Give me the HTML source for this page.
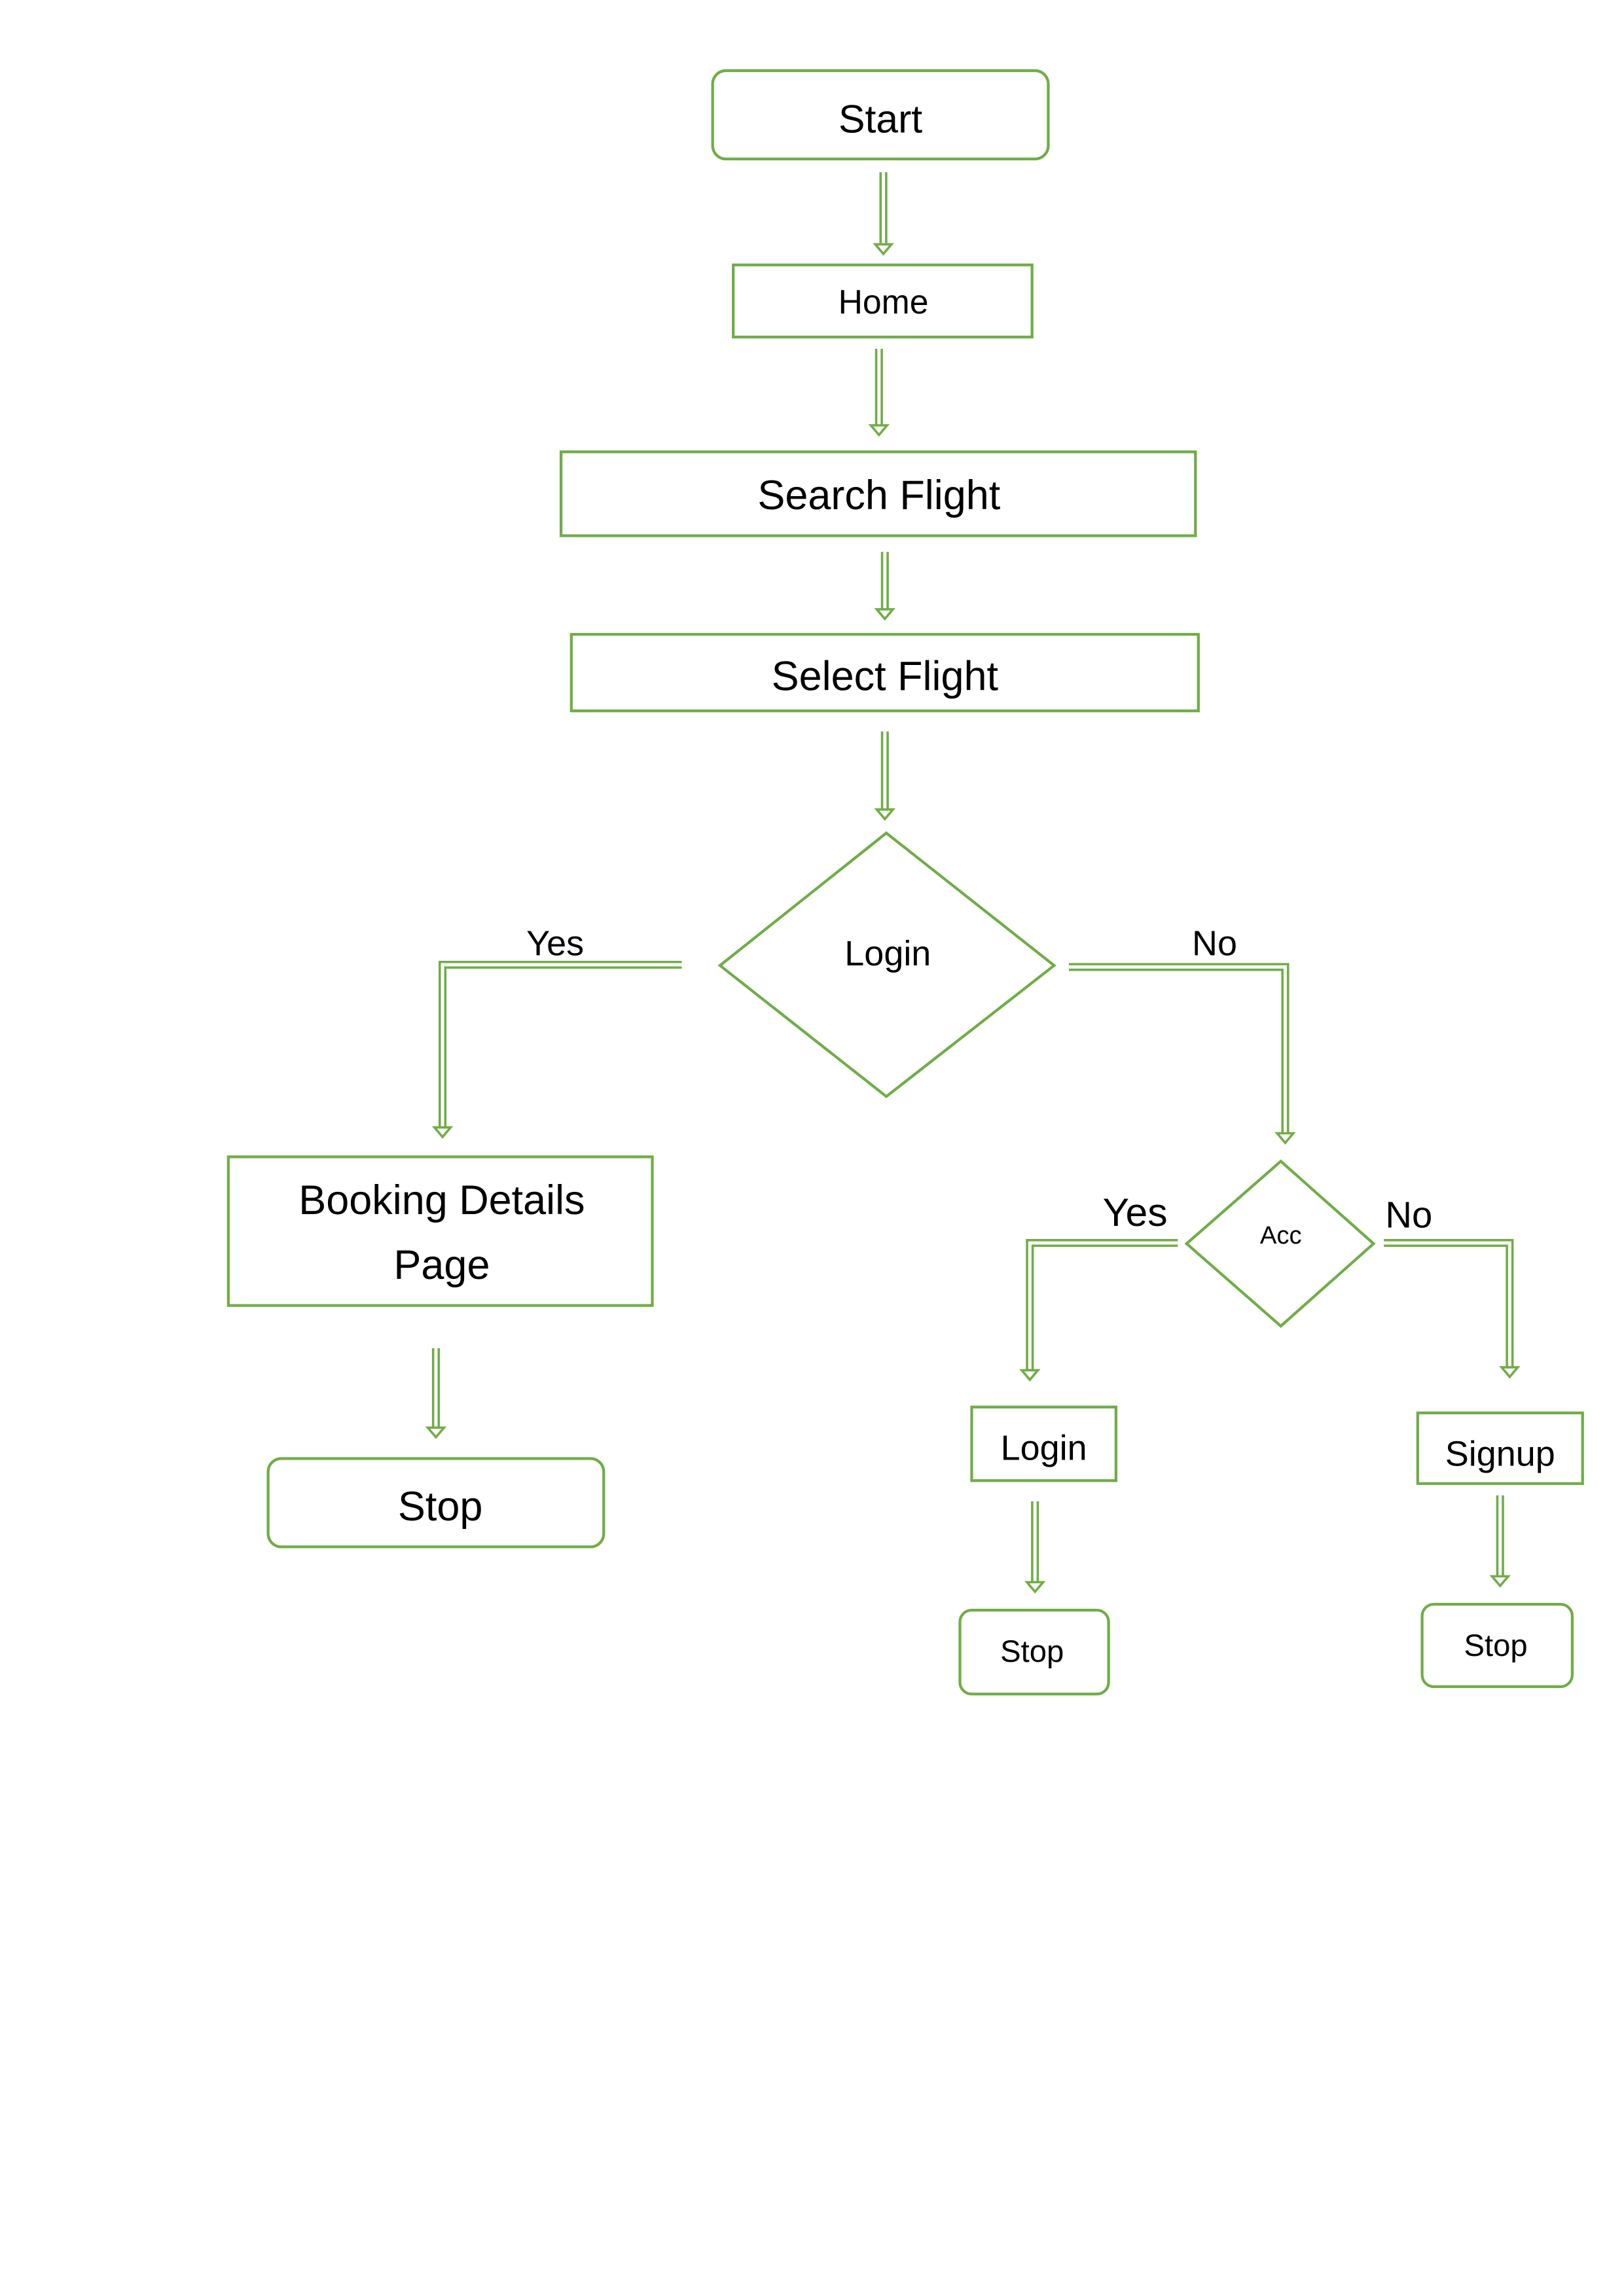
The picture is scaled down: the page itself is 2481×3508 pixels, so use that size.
<!DOCTYPE html>
<html><head><meta charset="utf-8">
<style>
html,body{margin:0;padding:0;background:#fff;}
svg{display:block;}
text{font-family:"Liberation Sans",sans-serif;fill:#000;text-anchor:middle;}
</style></head>
<body>
<svg width="2481" height="3508" viewBox="0 0 1103 1560" xmlns="http://www.w3.org/2000/svg">
<defs>
<style>
.b{fill:#fff;stroke:#70ad47;stroke-width:1.9;}
.co{fill:none;stroke:#70ad47;stroke-width:5.4;stroke-linejoin:miter;}
.ci{fill:none;stroke:#fff;stroke-width:2.2;stroke-linejoin:miter;}
.h{fill:#fff;stroke:#70ad47;stroke-width:1.6;}
</style>
</defs>

<rect class="b" x="484" y="48" width="228" height="60" rx="9"/>
<text x="598" y="90" font-size="27">Start</text>

<rect class="b" x="498" y="180" width="203" height="49"/>
<text x="600" y="213" font-size="23">Home</text>

<rect class="b" x="381" y="307" width="431" height="57"/>
<text x="597" y="346" font-size="28">Search Flight</text>

<rect class="b" x="388" y="431" width="426" height="52"/>
<text x="601" y="469" font-size="28">Select Flight</text>

<polygon class="b" points="602,566 716,656 602,745 489,656"/>
<text x="603" y="656" font-size="24">Login</text>

<rect class="b" x="155" y="786" width="288" height="101"/>
<text x="300" y="825" font-size="28">Booking Details</text>
<text x="300" y="869" font-size="28">Page</text>

<rect class="b" x="182" y="991" width="228" height="60" rx="9"/>
<text x="299" y="1033" font-size="28">Stop</text>

<polygon class="b" points="870,789 933,845 870,901 806,845"/>
<text x="870" y="845" font-size="17">Acc</text>

<rect class="b" x="660" y="956" width="98" height="50"/>
<text x="709" y="992" font-size="24">Login</text>

<rect class="b" x="652" y="1094" width="101" height="57" rx="8"/>
<text x="701" y="1129" font-size="21">Stop</text>

<rect class="b" x="963" y="960" width="112" height="48"/>
<text x="1019" y="996" font-size="24">Signup</text>

<rect class="b" x="966" y="1090" width="102" height="56" rx="8"/>
<text x="1016" y="1125" font-size="21">Stop</text>

<text x="377" y="649" font-size="24">Yes</text>
<text x="825" y="649" font-size="24">No</text>
<text x="771" y="833" font-size="27">Yes</text>
<text x="957" y="834" font-size="25">No</text>

<g>
<path class="co" d="M600,117 V167"/><path class="ci" d="M600,117 V167"/>
<path class="co" d="M597,237 V290"/><path class="ci" d="M597,237 V290"/>
<path class="co" d="M601,375 V415"/><path class="ci" d="M601,375 V415"/>
<path class="co" d="M601,497 V551"/><path class="ci" d="M601,497 V551"/>
<path class="co" d="M463,655.5 H300.5 V767"/><path class="ci" d="M463,655.5 H300.5 V767"/>
<path class="co" d="M726,657 H873 V771"/><path class="ci" d="M726,657 H873 V771"/>
<path class="co" d="M296,916 V971"/><path class="ci" d="M296,916 V971"/>
<path class="co" d="M800,844.5 H699.5 V932"/><path class="ci" d="M800,844.5 H699.5 V932"/>
<path class="co" d="M940,844.5 H1025.5 V930"/><path class="ci" d="M940,844.5 H1025.5 V930"/>
<path class="co" d="M703,1020 V1076"/><path class="ci" d="M703,1020 V1076"/>
<path class="co" d="M1019,1016 V1072"/><path class="ci" d="M1019,1016 V1072"/>
</g>
<g>
<polygon class="h" points="594.5,166 605.5,166 600,172.5"/>
<polygon class="h" points="591.5,289 602.5,289 597,295.5"/>
<polygon class="h" points="595.5,414 606.5,414 601,420.5"/>
<polygon class="h" points="595.5,550 606.5,550 601,556.5"/>
<polygon class="h" points="295,766 306,766 300.5,772.5"/>
<polygon class="h" points="867.5,770 878.5,770 873,776.5"/>
<polygon class="h" points="290.5,970 301.5,970 296,976.5"/>
<polygon class="h" points="694,931 705,931 699.5,937.5"/>
<polygon class="h" points="1020,929 1031,929 1025.5,935.5"/>
<polygon class="h" points="697.5,1075 708.5,1075 703,1081.5"/>
<polygon class="h" points="1013.5,1071 1024.5,1071 1019,1077.5"/>
</g>
</svg>
</body></html>
